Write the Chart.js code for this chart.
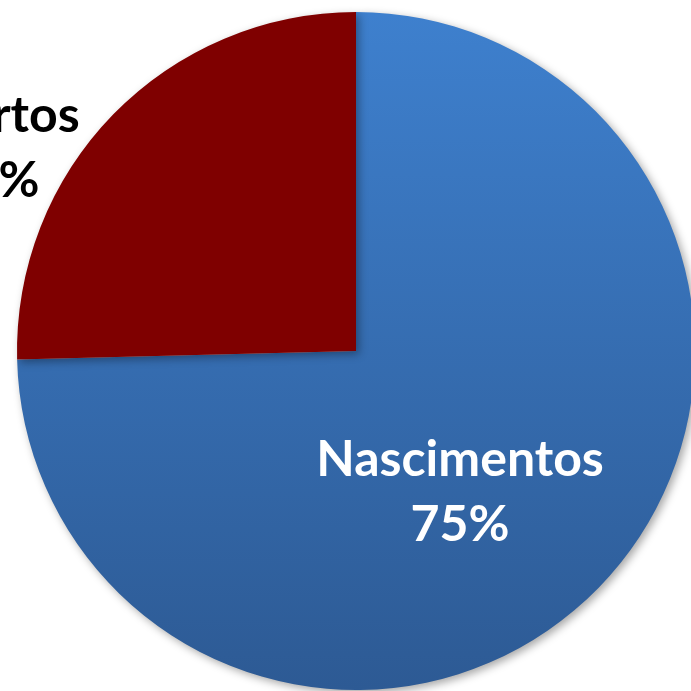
<!DOCTYPE html>
<html>
<head>
<meta charset="utf-8">
<script src="https://cdn.jsdelivr.net/npm/chart.js@4.4.1/dist/chart.umd.min.js"></script>
<style>
  html, body { margin: 0; padding: 0; background: #fff; overflow: hidden; width: 691px; height: 691px; }
  #wrap { position: absolute; left: 0; top: 0; width: 712px; height: 702px; }
</style>
</head>
<body>
<div id="wrap"><canvas id="pie"></canvas></div>
<script>
// Data
const labels = ['Nascimentos', 'Abortos'];
const values = [74.6, 25.4];
const shownPct = ['75%', '25%'];

// Label placement (fraction of radius from centre) and colours
const labelPos = [[0.307, 0.416], [-1.08, -0.60]];
const labelColor = ['#ffffff', '#000000'];

function sliceColor(context) {
    if (context.dataIndex === 1) return '#7f0000';
    const chart = context.chart;
    const area = chart.chartArea;
    if (!area) return '#3a74bd';
    const g = chart.ctx.createLinearGradient(0, area.top, 0, area.bottom);
    g.addColorStop(0, 'rgb(62,128,206)');
    g.addColorStop(1, 'rgb(45,90,148)');
    return g;
}

// soft shadow under the pie
const shadowPlugin = {
    id: 'shadow',
    beforeDatasetsDraw(chart) {
        const ctx = chart.ctx;
        ctx.save();
        ctx.shadowColor = 'rgba(0,0,0,0.35)';
        ctx.shadowBlur = 8;
        ctx.shadowOffsetX = 3;
        ctx.shadowOffsetY = 3;
    },
    afterDatasetsDraw(chart) {
        chart.ctx.restore();
    }
};

// slice labels drawn from the arc geometry
const sliceLabels = {
    id: 'sliceLabels',
    afterDraw(chart) {
        const ctx = chart.ctx;
        const meta = chart.getDatasetMeta(0);
        ctx.save();
        ctx.font = 'bold 50px Lato';
        ctx.textAlign = 'center';
        ctx.textBaseline = 'middle';
        meta.data.forEach((arc, i) => {
            const p = arc.getProps(['x', 'y', 'outerRadius'], true);
            const cx = p.x + labelPos[i][0] * p.outerRadius;
            const cy = p.y + labelPos[i][1] * p.outerRadius;
            ctx.fillStyle = labelColor[i];
            ctx.fillText(labels[i], cx, cy - 32);
            ctx.fillText(shownPct[i], cx, cy + 33);
        });
        ctx.restore();
    }
};

new Chart(document.getElementById('pie'), {
    type: 'pie',
    data: {
        labels: labels,
        datasets: [{
            data: values,
            backgroundColor: sliceColor,
            borderWidth: 0
        }]
    },
    options: {
        responsive: true,
        maintainAspectRatio: false,
        animation: false,
        layout: { padding: 12 },
        plugins: {
            legend: { display: false },
            tooltip: { enabled: false }
        }
    },
    plugins: [shadowPlugin, sliceLabels]
});
</script>
</body>
</html>
